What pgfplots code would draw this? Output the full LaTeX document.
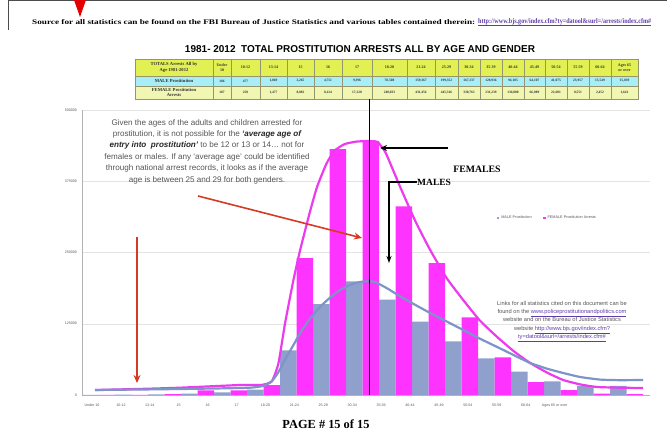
\documentclass[border=0pt]{standalone}
\usepackage{pgfplots}
\pgfplotsset{compat=1.18}
\usetikzlibrary{arrows.meta}
\usepackage{graphicx}
\usepackage{fontspec}
\setmainfont{Liberation Serif}
\setsansfont{Liberation Sans}
\definecolor{malebar}{RGB}{143,160,205}
\definecolor{femalebar}{RGB}{255,51,255}
\definecolor{maleline}{RGB}{125,148,200}
\definecolor{femaleline}{RGB}{238,58,238}
\definecolor{hdr}{RGB}{226,240,84}
\definecolor{malerow}{RGB}{168,238,246}
\definecolor{femrow}{RGB}{241,246,178}
\definecolor{arrowred}{RGB}{214,58,34}
\definecolor{linkpurple}{RGB}{95,60,170}
\definecolor{txtgray}{RGB}{85,85,85}
\definecolor{tblline}{RGB}{150,150,110}

\begin{document}
\begin{tikzpicture}
\useasboundingbox (0pt,0pt) rectangle (667pt,-443pt);
\begin{axis}[
  at={(82pt,-395pt)}, anchor=south west,
  scale only axis, width=568pt, height=285pt,
  xmin=-0.5, xmax=16.71, ymin=0, ymax=500000,
  axis lines*=left, axis line style={draw=gray!60},
  ytick={0,125000,250000,375000,500000},
  scaled y ticks=false,
  yticklabel style={font=\sffamily\fontsize{3.6}{4}\selectfont, text=txtgray,
    /pgf/number format/fixed, /pgf/number format/1000 sep={},
    /pgf/number format/assume math mode=true, xshift=-1.5pt},
  ymajorgrids, grid style={draw=gray!22},
  xtick={-0.197,0.679,1.555,2.431,3.307,4.183,5.059,5.935,6.811,7.687,8.563,9.439,10.315,11.191,12.067,12.943,13.819},
  xticklabels={Under 10,10-12,13-14,15,16,17,18-20,21-24,25-29,30-34,35-39,40-44,45-49,50-54,55-59,60-64,Ages 65 or over},
  xticklabel style={font=\sffamily\fontsize{3.6}{4}\selectfont, text=txtgray, yshift=-5pt},
  tick style={draw=none},
  legend style={at={(0.819,0.621)}, anchor=center, draw=none, fill=none,
    font=\sffamily\fontsize{3.8}{4}\selectfont, text=txtgray, legend columns=2,
    /tikz/every even column/.append style={column sep=9pt}},
]
\addplot[ybar, bar width=16.5pt, bar shift=-8.25pt, fill=malebar, draw=none,
  legend image code/.code={\fill[malebar] (0pt,-1.4pt) rectangle (2.8pt,1.4pt);}]
  coordinates {(0,186) (1,477) (2,1069) (3,2265) (4,4751) (5,9396) (6,78508) (7,159367) (8,199352) (9,167137) (10,128936) (11,94185) (12,64107) (13,41075) (14,23957) (15,15549) (16,15839)};
\addlegendentry{MALE Prostitution}
\addplot[ybar, bar width=16.5pt, bar shift=8.25pt, fill=femalebar, draw=none,
  legend image code/.code={\fill[femalebar] (0pt,-1.4pt) rectangle (2.8pt,1.4pt);}]
  coordinates {(0,187) (1,250) (2,1477) (3,8082) (4,8124) (5,17220) (6,240033) (7,431456) (8,445316) (9,330763) (10,231239) (11,136000) (12,66089) (13,22601) (14,8551) (15,2452) (16,1641)};
\addlegendentry{FEMALE Prostitution Arrests}
\addplot[femaleline, line width=2.2pt, smooth, tension=0.3, forget plot] coordinates {
 (-0.106,8770) (1.5,11000) (2.47,12800) (3.5,15500) (4.3,17540) (4.95,17800) (5.25,24000) (5.45,55000) (5.65,125000) (5.9,200000) (6.11,254330) (6.4,320000) (6.62,364832) (6.9,405000) (7.14,428000) (7.45,440000) (7.8,444500) (8.17,445500) (8.45,444000) (8.7,425000) (9.14,365000) (9.6,305000) (10.05,254330) (10.55,205000) (11.05,166630) (11.55,131000) (12.08,101732) (12.6,76000) (13.08,56128) (13.6,39000) (14.08,26310) (14.6,18500) (15.11,14032) (15.8,12800) (16.50,12278)};
\addplot[maleline, line width=2.2pt, smooth, tension=0.3, forget plot] coordinates {
 (-0.106,8770) (1.5,9800) (2.47,10524) (3.6,11500) (4.59,12800) (5.0,16000) (5.25,24000) (5.45,40000) (5.65,62000) (5.9,87000) (6.11,108748) (6.4,133000) (6.71,154352) (7.0,170000) (7.32,184170) (7.62,193000) (7.92,198202) (8.15,199500) (8.38,198202) (8.75,187000) (9.14,173000) (9.6,158000) (10.05,143828) (10.55,129000) (11.05,114010) (11.55,99000) (12.08,84192) (12.6,69500) (13.08,56128) (13.6,46000) (14.08,38588) (14.6,31500) (15.20,27000) (15.8,26000) (16.50,26310)};
\end{axis}

\begin{scope}[x=1pt,y=-1pt]
% page frame bits
\draw[gray!60!black, line width=1pt] (8,0.5) -- (667,0.5);
\draw[gray!60!black, line width=1pt] (8,0) -- (8,30);
\fill[red!90!black] (74,0) -- (86,0) -- (80,17) -- cycle;
% source line
\node[anchor=west, inner sep=0] at (32,22) {\resizebox{443pt}{5pt}{\bfseries Source for all statistics can be found on the FBI Bureau of Justice Statistics and various tables contained therein:}};
\node[anchor=west, inner sep=0] at (478,22) {\resizebox{173pt}{5pt}{\bfseries\color{linkpurple}\underline{http://www.bjs.gov/index.cfm?ty=datool\&surl=/arrests/index.cfm\#}}};
% title
\node[inner sep=0] at (360,49) {\resizebox{350pt}{!}{\sffamily\bfseries 1981- 2012\ \ TOTAL PROSTITUTION ARRESTS ALL BY AGE AND GENDER}};
% table
\fill[hdr] (135,59) rectangle (638,76);
\fill[malerow] (135,76) rectangle (638,86);
\fill[femrow] (135,86) rectangle (638,99);
\draw[tblline, line width=0.4pt] (135,59) rectangle (638,99);
\draw[tblline, line width=0.4pt] (135,76) -- (638,76) (135,86) -- (638,86);
\foreach \x in {213,231,260,287,314,342,372,407,435,458,480,502,524,545,567,589,611}
  \draw[tblline, line width=0.4pt] (\x,59) -- (\x,99);
\node[align=center, font=\bfseries\fontsize{4.6}{5.4}\selectfont, text=black!80, inner sep=0] at (174,67.5) {TOTALS Arrests All by\\Age 1981-2012};
\node[align=center, font=\bfseries\fontsize{4.6}{5.4}\selectfont, text=black!80, inner sep=0] at (174,81) {MALE Prostitution};
\node[align=center, font=\bfseries\fontsize{4.6}{5.4}\selectfont, text=black!80, inner sep=0] at (174,92.5) {FEMALE Prostitution\\Arrests};
\foreach \c/\h/\m/\f in {222/{Under\\10}/186/187, 245.5/10-12/477/250, 273.5/13-14/{1,069}/{1,477}, 300.5/15/{2,265}/{8,082}, 328/16/{4,751}/{8,124}, 357/17/{9,396}/{17,220}, 389.5/18-20/{78,508}/{240,033}, 421/21-24/{159,367}/{431,456}, 446.5/25-29/{199,352}/{445,316}, 469/30-34/{167,137}/{330,763}, 491/35-39/{128,936}/{231,239}, 513/40-44/{94,185}/{136,000}, 534.5/45-49/{64,107}/{66,089}, 556/50-54/{41,075}/{22,601}, 578/55-59/{23,957}/{8,551}, 600/60-64/{15,549}/{2,452}, 624.5/{Ages 65\\or over}/{15,839}/{1,641}} {
  \node[align=center, font=\bfseries\fontsize{4}{4.8}\selectfont, text=black!80, inner sep=0] at (\c,67.5) {\h};
  \node[font=\bfseries\fontsize{3.5}{4}\selectfont, text=black!80, inner sep=0] at (\c,81) {\m};
  \node[font=\bfseries\fontsize{3.5}{4}\selectfont, text=black!80, inner sep=0] at (\c,92.5) {\f};
}
% annotation text
\node[align=center, text=txtgray, font=\sffamily\fontsize{8.1}{11.4}\selectfont, inner sep=0] at (207,151.5) {Given the ages of the adults and children arrested for\\ prostitution, it is not possible for the {\color{black!85}\bfseries\itshape `average age of}\\ {\color{black!85}\bfseries\itshape entry into\ \ prostitution'} to be 12 or 13 or 14\ldots\ not for\\ females or males. If any `average age' could be identified\\ through national arrest records, it looks as if the average\\ age is between 25 and 29 for both genders.};
% links text
\node[align=center, text=txtgray, font=\sffamily\fontsize{5.7}{8.2}\selectfont, inner sep=0] at (562,321.5) {Links for all statistics cited on this document can be\\ found on the \textcolor{linkpurple}{\underline{www.policeprostitutionandpolitics.com}}\\ website and on the Bureau of Justice Statistics\\ website \textcolor{linkpurple}{\underline{http://www.bjs.gov/index.cfm?}}\\ \textcolor{linkpurple}{\underline{ty=datool\&surl=/arrests/index.cfm\#}}};
% vertical line and arrows
\draw[black, line width=0.6pt] (369,99) -- (369,395);
\draw[line width=1.5pt, -{Stealth[length=7pt,width=6pt]}] (448,148) -- (380,148);
\draw[line width=1.2pt, -{Stealth[length=7pt,width=5pt]}] (417,182) -- (389,182) -- (389,263);
\node[anchor=west, font=\bfseries\fontsize{9.5}{10}\selectfont, inner sep=0] at (417,182) {MALES};
\node[font=\bfseries\fontsize{9.8}{10}\selectfont, inner sep=0] at (477,169) {FEMALES};
\draw[arrowred, line width=1.6pt, -{Stealth[length=8pt,width=7pt]}] (137,237) -- (137,383);
\draw[arrowred, line width=1.6pt, -{Stealth[length=8pt,width=7pt]}] (198,196) -- (362,238);
% footer
\node[inner sep=0] at (326,424) {\resizebox{87pt}{!}{\bfseries PAGE \# 15 of 15}};
\end{scope}
\end{tikzpicture}
\end{document}
